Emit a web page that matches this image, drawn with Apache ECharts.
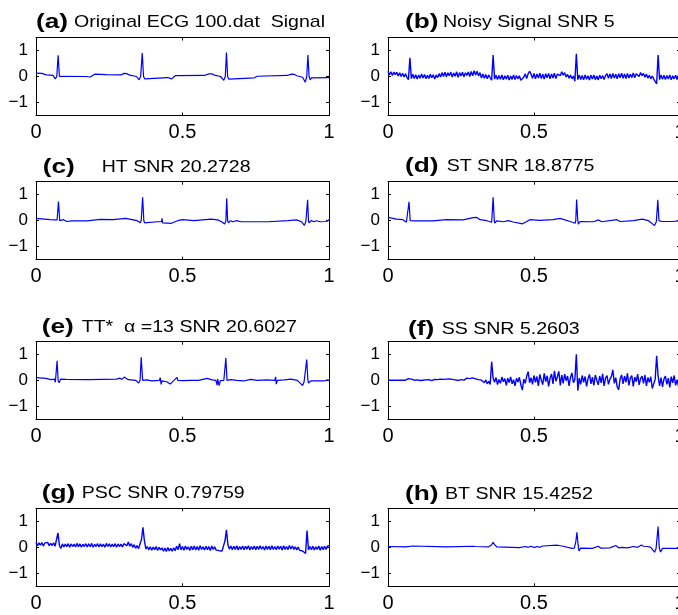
<!DOCTYPE html>
<html><head><meta charset="utf-8">
<script src="https://cdn.jsdelivr.net/npm/echarts@6/dist/echarts.min.js"></script>
<style>html,body{margin:0;padding:0;background:#fff}#chart{width:678px;height:615px}</style>
</head><body><div id="chart"></div>
<script>
// ---------- data ----------
const SAMPLE_STEP = 0.005;          // sampling step of the uniformly sampled (noisy) traces
const xTickValues = [0, 0.5, 1];
const yTickValues = [-1, 0, 1];
const panelTags = ['(a)','(b)','(c)','(d)','(e)','(f)','(g)','(h)'];
const panelTitles = ['Original ECG 100.dat  Signal','Noisy Signal SNR 5','HT SNR 20.2728','ST SNR 18.8775',
  'TT*  \u03b1 =13 SNR 20.6027','SS SNR 5.2603','PSC SNR 0.79759','BT SNR 15.4252'];

// (a) original: [time, amplitude]
const sigOriginal = [[0,0.13],[0.02,0.12],[0.035,0.06],[0.058,0.04],[0.066,-0.09],[0.071,0],[0.0755,0.82],[0.08,0],[0.083,-0.06],[0.087,0.01],[0.17,0],[0.185,-0.02],[0.2,0.09],[0.24,0.07],[0.29,0.06],[0.3,0.12],[0.31,0.11],[0.32,0.05],[0.343,0],[0.352,-0.13],[0.357,0],[0.3627,0.9],[0.367,0],[0.371,-0.09],[0.375,-0.03],[0.45,-0.04],[0.463,-0.09],[0.475,0.03],[0.575,0.04],[0.59,0.1],[0.6,0.1],[0.612,0.04],[0.63,0],[0.641,-0.15],[0.646,0],[0.65,0.92],[0.654,0],[0.658,-0.1],[0.663,-0.05],[0.745,-0.05],[0.755,0.01],[0.858,0.04],[0.872,0.09],[0.882,0.08],[0.89,0.03],[0.91,-0.03],[0.919,-0.22],[0.924,0],[0.928,0.83],[0.932,0],[0.936,-0.13],[0.94,-0.05],[1,-0.04]];

// (b) noisy, uniformly sampled
const sigNoisy = [0.20,0.06,0.18,0.04,0.17,0.07,0.16,0.02,0.14,0.00,0.12,-0.02,0.10,-0.03,
-0.12,0.72,-0.08,
0.09,-0.08,0.07,-0.10,0.06,-0.07,0.10,-0.06,0.08,-0.09,0.05,-0.08,0.09,-0.05,0.07,-0.10,0.06,-0.04,0.11,
-0.02,0.15,0.00,0.16,-0.01,0.14,0.03,0.17,-0.02,0.13,0.01,0.18,-0.03,0.15,0.02,0.16,-0.01,0.14,0.04,0.17,0.00,0.19,0.03,
0.22,0.06,0.20,0.02,0.15,
-0.06,0.10,-0.07,0.08,-0.09,0.06,-0.05,
-0.14,0.83,-0.10,
0.05,-0.12,0.04,-0.11,0.06,-0.13,0.03,-0.10,0.05,-0.14,0.02,-0.11,0.06,-0.12,0.04,-0.09,0.03,-0.15,
-0.16,-0.02,
0.10,-0.08,0.11,0.20,0.09,-0.07,0.12,-0.09,0.10,-0.06,0.13,-0.08,0.09,-0.10,0.11,-0.05,0.12,-0.09,0.10,-0.06,0.13,-0.08,0.09,
0.14,0.03,0.18,0.05,0.15,-0.02,0.08,-0.07,0.06,-0.09,0.02,
-0.18,0.87,-0.12,
0.05,-0.12,0.04,-0.13,0.06,-0.11,0.03,-0.14,0.05,-0.10,0.06,-0.12,0.02,-0.13,0.05,-0.09,0.04,-0.12,0.03,
0.11,-0.07,0.10,-0.08,0.12,-0.06,0.09,-0.09,0.11,-0.05,0.13,-0.07,0.10,-0.08,0.12,-0.06,0.09,-0.04,0.14,-0.05,0.11,
0.16,0.00,0.15,0.03,0.12,-0.03,0.09,-0.06,0.05,-0.09,0.02,-0.10,-0.05,
-0.28,0.83,-0.12,
0.06,-0.11,0.05,-0.12,0.04,-0.10,0.06,-0.13,0.03,-0.09,0.05,-0.12,0.04,-0.02];

// (c) HT
const sigHT = [[0,0.09],[0.048,0.04],[0.065,0.03],[0.069,-0.04],[0.072,0.03],[0.0767,0.74],[0.081,0],[0.085,-0.05],[0.094,0.04],[0.105,-0.03],[0.111,0.03],[0.122,-0.01],[0.174,-0.01],[0.22,0.05],[0.265,0.04],[0.305,0.09],[0.328,0.04],[0.345,0],[0.356,-0.08],[0.359,0],[0.364,0.9],[0.368,0],[0.371,-0.08],[0.376,-0.03],[0.414,-0.04],[0.428,-0.04],[0.43,0.09],[0.432,-0.08],[0.437,-0.04],[0.462,-0.1],[0.483,0],[0.5,0.04],[0.54,0],[0.597,0.06],[0.62,0.03],[0.632,-0.03],[0.637,0.04],[0.644,-0.13],[0.648,0],[0.651,0.86],[0.654,0],[0.657,-0.08],[0.664,0],[0.672,-0.04],[0.683,0],[0.7,-0.04],[0.792,-0.04],[0.86,0],[0.889,0.03],[0.906,-0.04],[0.916,-0.18],[0.921,-0.03],[0.927,0.8],[0.93,0],[0.932,-0.08],[0.94,0.01],[0.948,-0.04],[0.958,0],[0.969,-0.04],[0.992,-0.03],[1,0.04]];

// (d) ST
const sigST = [[0,0.13],[0.029,0.06],[0.051,0.04],[0.063,-0.06],[0.068,0],[0.072,0.73],[0.076,0],[0.078,-0.06],[0.082,0.04],[0.092,-0.01],[0.154,-0.01],[0.2,0.04],[0.257,0.03],[0.292,0.12],[0.297,0.05],[0.303,0.13],[0.315,0.04],[0.338,0],[0.355,-0.06],[0.357,0],[0.36,0.9],[0.364,0],[0.366,-0.09],[0.372,-0.01],[0.395,-0.04],[0.412,0],[0.429,-0.05],[0.461,-0.12],[0.486,0.04],[0.52,0.01],[0.566,0.04],[0.589,0.09],[0.606,0.03],[0.624,-0.03],[0.629,0.04],[0.641,-0.1],[0.643,0],[0.646,0.81],[0.65,0],[0.652,-0.13],[0.658,-0.03],[0.704,-0.04],[0.721,0.03],[0.732,-0.04],[0.784,0.04],[0.795,-0.03],[0.841,0],[0.87,0.06],[0.892,0],[0.913,-0.19],[0.919,-0.03],[0.924,0.8],[0.928,0],[0.93,-0.06],[0.938,-0.03],[0.978,-0.03],[1,0]];

// (e) TT*
const sigTT = [[0,0.12],[0.034,0.09],[0.051,0.04],[0.063,0.06],[0.066,-0.06],[0.069,0.01],[0.072,0.77],[0.0755,0.01],[0.079,-0.08],[0.084,0.06],[0.089,0.01],[0.103,0.05],[0.172,0.04],[0.176,0.08],[0.178,-0.01],[0.183,0.04],[0.275,0.06],[0.286,0.1],[0.293,0.05],[0.301,0.14],[0.315,0.04],[0.341,0.01],[0.35,-0.09],[0.355,0.01],[0.359,0.9],[0.364,0.01],[0.366,-0.06],[0.378,0.03],[0.395,-0.01],[0.421,0.01],[0.424,0.12],[0.427,-0.14],[0.43,-0.01],[0.446,-0.04],[0.458,-0.13],[0.471,0.01],[0.481,0.13],[0.484,0.01],[0.503,0],[0.526,0.01],[0.555,0.01],[0.584,0.09],[0.601,0.03],[0.614,0.01],[0.618,-0.17],[0.62,0.06],[0.625,-0.19],[0.629,0],[0.633,-0.06],[0.641,0.01],[0.648,0.87],[0.652,0.01],[0.654,-0.06],[0.664,0.04],[0.686,0.01],[0.709,-0.01],[0.732,0.05],[0.755,0.01],[0.789,0.03],[0.815,0.01],[0.818,0.15],[0.82,-0.13],[0.824,0.01],[0.847,0.03],[0.87,0.06],[0.892,0.01],[0.91,-0.19],[0.915,-0.04],[0.919,0.01],[0.924,0.81],[0.928,0.01],[0.93,-0.09],[0.938,-0.01],[0.984,-0.01],[0.998,0.04],[1,0.03]];

// (f) SS, uniformly sampled
const sigSS = [0.02,0.02,0.02,0.02,0.02,0.02,0.02,0.02,0.02,0.02,0.02,0.02,0.02,0.03,0.08,0.14,0.06,0.03,0.02,0.02,
0.03,0.02,0.01,0.03,0.02,0.00,0.03,0.01,0.04,0.02,0.00,0.03,0.05,0.01,0.04,0.02,0.06,0.03,0.05,0.01,
0.06,0.03,0.07,0.02,0.05,0.08,0.03,0.06,0.01,0.07,0.04,0.09,0.02,0.06,0.10,0.03,0.08,0.01,0.11,0.05,
0.07,0.13,0.04,0.09,0.02,0.06,-0.08,0.03,-0.12,-0.02,-0.14,0.73,0.10,-0.06,0.12,-0.15,0.05,-0.10,0.14,-0.04,
0.08,-0.18,0.10,-0.07,0.15,-0.12,0.04,-0.20,0.09,-0.05,0.13,-0.16,-0.36,0.06,-0.10,0.18,0.35,-0.08,0.12,-0.14,
0.20,-0.06,0.16,-0.20,0.24,0.02,-0.15,0.28,-0.04,0.19,-0.22,0.10,0.26,-0.12,0.38,-0.02,0.15,0.36,-0.18,0.22,
-0.10,0.25,0.00,0.18,-0.20,0.12,0.30,-0.08,0.05,1.02,-0.38,0.10,-0.14,0.20,-0.06,0.16,-0.22,0.08,0.24,-0.12,
0.14,-0.18,0.22,0.02,-0.16,0.18,-0.08,0.26,-0.20,0.10,0.20,-0.14,0.06,0.16,0.42,-0.10,0.12,-0.24,-0.35,0.08,
0.22,-0.12,0.18,-0.06,0.28,-0.18,0.10,0.20,-0.22,0.14,-0.04,0.25,-0.16,0.08,0.18,-0.10,0.22,-0.20,0.12,-0.06,
0.15,-0.30,-0.12,0.05,0.96,0.18,-0.20,0.12,-0.24,0.06,0.18,-0.14,0.10,-0.26,0.16,-0.08,0.20,-0.18,0.04,-0.22,
0.10];

// (g) PSC, uniformly sampled
const sigPSC = [0.19,0.06,0.17,0.08,0.18,0.05,0.16,0.09,0.19,0.06,0.15,0.07,0.17,0.04,
0.02,0.55,0.06,-0.04,
0.13,0.01,0.12,0.02,0.14,0.00,0.13,0.03,0.12,0.01,0.15,0.02,0.13,0.00,0.12,0.03,0.14,0.01,0.13,0.02,
0.15,0.00,0.12,0.03,0.14,0.01,0.13,0.02,0.12,0.00,0.15,0.03,0.13,0.01,0.12,0.02,0.14,0.00,0.13,0.03,0.12,0.01,0.14,
0.18,0.06,0.20,0.04,0.14,0.00,0.10,-0.04,0.07,-0.05,
-0.08,0.30,0.77,0.25,-0.06,
0.03,-0.10,0.02,-0.11,0.01,-0.09,0.03,-0.12,0.00,-0.10,
-0.02,-0.15,-0.03,-0.16,-0.01,-0.14,-0.04,-0.15,-0.02,-0.13,
0.04,-0.09,0.14,-0.10,0.03,-0.11,0.05,-0.08,0.02,-0.12,0.04,-0.09,0.05,-0.10,0.03,-0.11,0.06,-0.08,0.02,-0.10,
0.04,-0.09,0.03,-0.12,0.05,-0.08,0.02,-0.11,-0.05,-0.13,-0.08,-0.14,
-0.15,0.25,0.67,0.10,-0.07,
0.05,-0.09,0.04,-0.08,0.06,-0.10,0.03,-0.08,0.05,-0.09,0.04,-0.07,0.06,-0.10,0.03,-0.08,0.05,-0.09,0.04,-0.08,
0.06,-0.07,0.03,-0.10,0.05,-0.08,0.04,-0.09,0.06,-0.08,0.03,-0.09,0.05,-0.07,0.04,-0.10,0.06,-0.08,0.03,-0.09,
0.07,-0.06,0.05,-0.08,0.02,-0.10,0.01,-0.12,-0.06,-0.14,
-0.12,-0.24,0.64,-0.10,
0.03,-0.09,0.04,-0.10,0.02,-0.08,0.05,-0.11,0.03,-0.09,0.04,-0.08,0.05,0.06];

// (h) BT
const sigBT = [[0,0.03],[0.06,0.02],[0.085,0.05],[0.09,0.02],[0.2,0.02],[0.29,0.04],[0.3,0.03],[0.345,0.02],[0.355,0.1],[0.36,0.19],[0.365,0.1],[0.372,0.02],[0.378,-0.01],[0.45,-0.01],[0.47,0.03],[0.48,0],[0.49,0.04],[0.5,-0.01],[0.51,0.03],[0.52,0],[0.53,0.05],[0.58,0.08],[0.6,0.04],[0.63,-0.04],[0.638,-0.03],[0.643,0.2],[0.647,0.58],[0.651,0.1],[0.654,-0.14],[0.66,-0.03],[0.7,-0.04],[0.72,0.04],[0.728,-0.03],[0.76,-0.02],[0.78,0.07],[0.79,-0.02],[0.8,0],[0.805,0.04],[0.82,-0.02],[0.84,0.03],[0.855,0],[0.868,0.09],[0.875,0.04],[0.88,0.07],[0.89,0.03],[0.9,0],[0.913,-0.19],[0.918,-0.05],[0.925,0.8],[0.929,0],[0.933,-0.18],[0.94,-0.04],[1,-0.04]];

// ---------- build ----------
function sampled(arr){ return arr.map((v,i)=>[+(i*SAMPLE_STEP).toFixed(4), v]); }
const panelData = [sigOriginal, sampled(sigNoisy), sigHT, sigST, sigTT, sampled(sigSS), sampled(sigPSC), sigBT];
const noisyPanel = [false, true, false, false, false, true, true, false];

const FONT = 'Liberation Sans, Arial, Helvetica, sans-serif';
const colLeft = [36, 388], colWidth = [293, 292];
const rowTop = [37.5, 181.7, 341.7, 508.3], plotH = 78;
// title anchors: [tagX, textX, centerY]
const titlePos = [[36,74,22],[405,443,22],[42.7,101.7,167],[405,446.7,166],[41.7,81.7,327.5],[408,441.7,329],[41.7,81.7,493.5],[405,445,494]];

const grids=[], xAxes=[], yAxes=[], series=[], graphics=[];
const minusFmt = v => v < 0 ? '\u2212' + (-v) : String(v);
panelData.forEach((data, i) => {
  const c = i % 2, r = Math.floor(i / 2);
  grids.push({left: colLeft[c], top: rowTop[r], width: colWidth[c], height: plotH, show: false,
    containLabel: false, outerBoundsMode: 'none'});
  const line = {show: true, onZero: false, lineStyle: {color: '#000', width: 1}};
  const tick = {show: true, inside: true, length: 3, lineStyle: {color: '#000', width: 1}};
  xAxes.push({gridIndex: i, type: 'value', min: 0, max: 1, interval: 0.5, position: 'bottom',
    axisLine: line, axisTick: tick, splitLine: {show: false},
    axisLabel: {show: true, fontSize: 20, color: '#000', margin: 7, fontFamily: FONT, showMinLabel: true, showMaxLabel: true,
      hideOverlap: false, formatter: v => String(v)}});
  xAxes.push({gridIndex: i, type: 'value', min: 0, max: 1, interval: 0.5, position: 'top',
    axisLine: line, axisTick: tick, splitLine: {show: false}, axisLabel: {show: false}});
  yAxes.push({gridIndex: i, type: 'value', min: -1.5, max: 1.5, position: 'left',
    axisLine: line, axisTick: Object.assign({customValues: yTickValues}, tick), splitLine: {show: false},
    axisLabel: {show: true, customValues: yTickValues, fontSize: 17, color: '#000', margin: 8, fontFamily: FONT, formatter: minusFmt}});
  yAxes.push({gridIndex: i, type: 'value', min: -1.5, max: 1.5, position: 'right',
    axisLine: line, axisTick: Object.assign({customValues: yTickValues}, tick), splitLine: {show: false}, axisLabel: {show: false}});
  series.push({type: 'line', xAxisIndex: 2*i, yAxisIndex: 2*i, data: data, showSymbol: false, symbol: 'none',
    lineStyle: {color: '#0000ff', width: noisyPanel[i] ? 1.4 : 1.2}, animation: false, clip: true, silent: true});
  const tp = titlePos[i];
  graphics.push({type: 'text', x: tp[0], y: tp[2], scaleX: 1.25, style: {text: panelTags[i], fontSize: 21, fontWeight: 'bold',
    fontFamily: FONT, fill: '#000', verticalAlign: 'middle', textVerticalAlign: 'middle', align: 'left'}});
  graphics.push({type: 'text', x: tp[1], y: tp[2], scaleX: 1.15, style: {text: panelTitles[i], fontSize: 17,
    fontFamily: FONT, fill: '#000', verticalAlign: 'middle', textVerticalAlign: 'middle', align: 'left'}});
});

const chart = echarts.init(document.getElementById('chart'), null, {renderer: 'canvas'});
chart.setOption({
  backgroundColor: '#fff', animation: false,
  grid: grids, xAxis: xAxes, yAxis: yAxes, series: series, graphic: graphics
});
</script></body></html>
